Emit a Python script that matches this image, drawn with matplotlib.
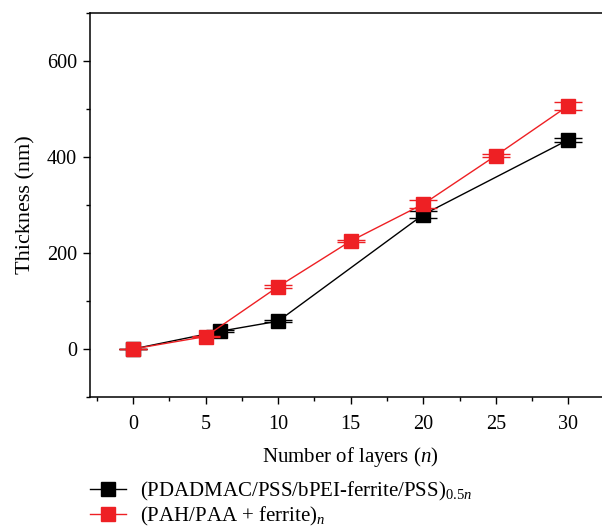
import matplotlib
matplotlib.use("Agg")
import matplotlib.pyplot as plt
from matplotlib.ticker import MultipleLocator
from matplotlib.lines import Line2D

plt.rcParams['font.family'] = ['Liberation Serif', 'DejaVu Serif']
plt.rcParams['mathtext.fontset'] = 'custom'
plt.rcParams['mathtext.rm'] = 'Liberation Serif'
plt.rcParams['mathtext.it'] = 'Liberation Serif:italic'

# Data
black_x = [0, 6, 10, 20, 30]
black_y = [0, 37, 58, 280, 436]
black_err = [0, 2, 2, 7, 4.5]

red_x = [0, 5, 10, 15, 20, 25, 30]
red_y = [0, 26, 130, 225, 302, 403, 507]
red_err = [0, 1.5, 3, 3, 7.5, 4, 8.5]

xticks = [0, 5, 10, 15, 20, 25, 30]
yticks = [0, 200, 400, 600]

label_black = r'(PDADMAC/PSS/bPEI-ferrite/PSS)$_{0.5n}$'
label_red = r'(PAH/PAA + ferrite)$_{n}$'

fig = plt.figure(figsize=(6.02, 5.29), dpi=100)
W, H = 602, 529
ax = fig.add_axes([89.5 / W, 1 - 397 / H, (612 - 89.5) / W, (397 - 13) / H])

black = '#000000'
red = '#ee2024'

ax.errorbar(black_x, black_y, yerr=black_err, color=black, marker='s', markersize=10.5,
            linewidth=1.0, capsize=10, capthick=1.0, elinewidth=1.0, zorder=3)
ax.errorbar(red_x, red_y, yerr=red_err, color=red, marker='s', markersize=10.5,
            linewidth=1.0, capsize=10, capthick=1.0, elinewidth=1.0, zorder=4)

ax.set_xlim(-3, 33)
ax.set_ylim(-100, 700)
ax.set_xticks(xticks)
ax.set_yticks(yticks)
ax.xaxis.set_minor_locator(MultipleLocator(2.5))
ax.yaxis.set_minor_locator(MultipleLocator(100))
ax.tick_params(which='major', direction='out', length=5, width=1.0, labelsize=14.5)
ax.tick_params(axis='x', which='major', pad=8)
ax.tick_params(axis='y', which='major', pad=4)
ax.tick_params(which='minor', direction='out', length=3, width=1.0)
ax.tick_params(top=False, right=False)
ax.spines['right'].set_visible(False)
for s in ['left', 'bottom', 'top']:
    ax.spines[s].set_linewidth(1.1)

ax.set_xlabel(r'Number of layers ($n$)', fontsize=15, labelpad=8)
ax.set_ylabel('Thickness (nm)', fontsize=16, labelpad=8)

handles = [
    Line2D([], [], color=black, marker='s', markersize=10.5, linewidth=1.0),
    Line2D([], [], color=red, marker='s', markersize=10.5, linewidth=1.0),
]
fig.legend(handles, [label_black, label_red], loc='upper left',
           bbox_to_anchor=(90 / W, 1 - 480 / H), frameon=False, fontsize=15,
           handlelength=1.75, handletextpad=0.65, labelspacing=0.1, borderpad=0,
           borderaxespad=0)

fig.savefig('out.png', dpi=100)
